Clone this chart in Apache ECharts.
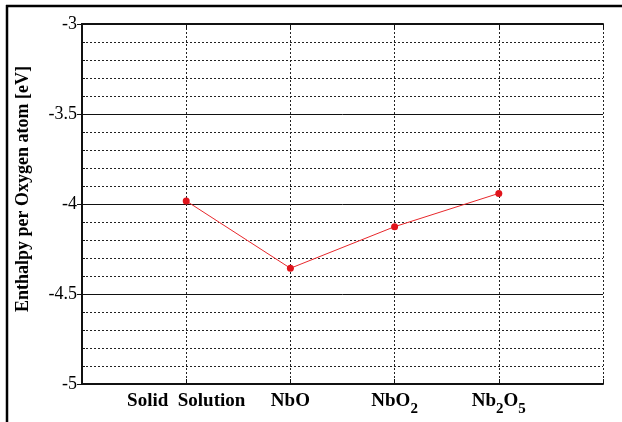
<!DOCTYPE html>
<html>
<head>
<meta charset="utf-8">
<script src="https://cdn.jsdelivr.net/npm/echarts@6/dist/echarts.min.js"></script>
<style>
  html, body { margin: 0; padding: 0; background: #fff; }
  #main { width: 622px; height: 422px; }
</style>
</head>
<body>
<div id="main"></div>
<script>
// compounds along the x axis (rich text for the subscripts)
var categories = ['Solid  Solution', 'NbO', 'NbO{sub|2}', 'Nb{sub|2}O{sub|5}'];
var enthalpy = [-3.983, -4.357, -4.126, -3.941];
var yTitle = 'Enthalpy per Oxygen atom [eV]';

var serif = '"Liberation Serif", "DejaVu Serif", serif';

var points = [];
for (var i = 0; i < categories.length; i++) {
    points.push([i + 1, enthalpy[i]]);
}

var myChart = echarts.init(document.getElementById('main'));

var dotted = { color: '#222', width: 1, type: [2, 2] };

option = {
    animation: false,
    backgroundColor: '#fff',
    grid: { left: 82, right: 19, top: 24, bottom: 38 },
    xAxis: [
        {
            type: 'value',
            min: 0,
            max: 5,
            interval: 1,
            axisLine: { lineStyle: { color: '#111', width: 2 } },
            axisTick: { inside: true, length: 5, lineStyle: { color: '#111' } },
            splitLine: { show: true, lineStyle: dotted },
            axisLabel: {
                margin: 8,
                showMinLabel: true,
                showMaxLabel: true,
                verticalAlign: 'top',
                formatter: function (v) {
                    return categories[v - 1] ? '{m|' + categories[v - 1].replace(/\{sub\|(\w)\}/g, '}{sub|$1}{m|') + '}' : '';
                },
                rich: {
                    m: { fontFamily: serif, fontWeight: 'bold', fontSize: 19, color: '#000', lineHeight: 22, verticalAlign: 'top' },
                    sub: { fontFamily: serif, fontWeight: 'bold', fontSize: 15, color: '#000', lineHeight: 22, padding: [10, 0, 0, 0], verticalAlign: 'top' }
                }
            }
        },
        {
            type: 'value',
            position: 'top',
            min: 0,
            max: 5,
            interval: 1,
            axisLine: { lineStyle: { color: '#111', width: 2 } },
            axisTick: { inside: true, length: 5, lineStyle: { color: '#111' } },
            axisLabel: { show: false },
            splitLine: { show: false }
        }
    ],
    yAxis: [
        {
            type: 'value',
            min: -5,
            max: -3,
            interval: 0.5,
            axisLine: { show: true, lineStyle: { color: '#111', width: 2 } },
            axisTick: { show: true, inside: true, length: 5, lineStyle: { color: '#111' } },
            minorTick: { show: true, splitNumber: 5, length: 3, lineStyle: { color: '#111' } },
            splitLine: { show: true, lineStyle: { color: '#111', width: 1 } },
            minorSplitLine: { show: true, lineStyle: dotted },
            axisLabel: { fontFamily: serif, fontSize: 18, color: '#000', margin: 5 }
        },
        {
            type: 'value',
            position: 'right',
            min: -5,
            max: -3,
            interval: 0.5,
            axisLine: { show: true, lineStyle: { color: '#111', width: 2 } },
            axisTick: { show: true, inside: true, length: 5, lineStyle: { color: '#111' } },
            axisLabel: { show: false },
            splitLine: { show: false }
        }
    ],
    graphic: [
        {
            type: 'text',
            x: 23,
            y: 189,
            rotation: Math.PI / 2,
            style: {
                text: yTitle,
                fontFamily: serif,
                fontWeight: 'bold',
                fontSize: 18,
                fill: '#000',
                textAlign: 'center',
                textVerticalAlign: 'middle'
            }
        },
        { type: 'line', shape: { x1: 7, y1: 5, x2: 7, y2: 422 }, style: { stroke: '#000', lineWidth: 2.5 } },
        { type: 'line', shape: { x1: 6, y1: 6, x2: 622, y2: 6 }, style: { stroke: '#000', lineWidth: 2.5 } }
    ],
    series: [
        {
            type: 'line',
            data: points,
            symbol: 'circle',
            symbolSize: 7,
            itemStyle: { color: '#e0141b' },
            lineStyle: { color: '#e8282c', width: 1 }
        }
    ]
};

myChart.setOption(option);
</script>
</body>
</html>
